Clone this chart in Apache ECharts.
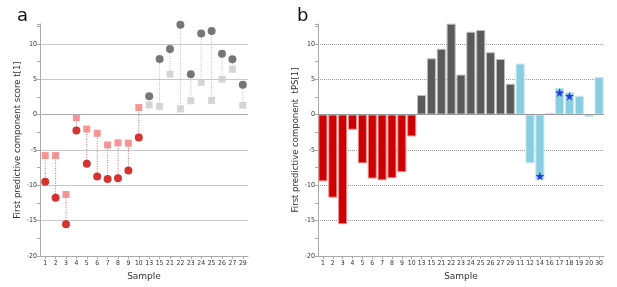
<!DOCTYPE html>
<html>
<head>
<meta charset="utf-8">
<script src="https://cdn.jsdelivr.net/npm/echarts@6/dist/echarts.min.js"></script>
<style>
  html, body { margin: 0; padding: 0; background: #fff; }
  #chart { width: 617px; height: 287px; }
</style>
</head>
<body>
<div id="chart"></div>
<script>
// panel a: samples in plot order
var leftSamples = ['1', '2', '3', '4', '5', '6', '7', '8', '9', '10', '13', '15', '21', '22', '23', '24', '25', '26', '27', '29'];
// round markers (t[1])
var scoreT = [-9.5, -11.75, -15.5, -2.25, -6.95, -8.75, -9.1, -9.0, -7.9, -3.25, 2.6, 7.85, 9.25, 12.7, 5.7, 11.45, 11.8, 8.6, 7.8, 4.2];
// square markers
var scoreSq = [-5.8, -5.8, -11.3, -0.45, -2.05, -2.65, -4.3, -4.0, -4.05, 1.0, 1.35, 1.15, 5.7, 0.8, 1.95, 4.55, 2.0, 5.0, 6.4, 1.3];

// panel b
var rightSamples = ['1', '2', '3', '4', '5', '6', '7', '8', '9', '10', '13', '15', '21', '22', '23', '24', '25', '26', '27', '29', '11', '12', '14', '16', '17', '18', '19', '20', '30'];
var scoreTPS = [-9.45, -11.75, -15.5, -2.15, -6.9, -9.05, -9.3, -9.0, -8.15, -3.1, 2.75, 7.95, 9.3, 12.85, 5.65, 11.7, 11.95, 8.8, 7.85, 4.35, 7.2, -6.9, -9.25, 0.25, 3.75, 3.15, 2.65, -0.35, 5.3];
var rightGroups = ['r', 'r', 'r', 'r', 'r', 'r', 'r', 'r', 'r', 'r', 'g', 'g', 'g', 'g', 'g', 'g', 'g', 'g', 'g', 'g', 'b', 'b', 'b', 'b', 'b', 'b', 'b', 'b', 'b'];
var starSamples = ['14', '17', '18'];
var starValues = [-8.7, 3.1, 2.6];

var chart = echarts.init(document.getElementById('chart'));

var font = 'DejaVu Sans';
var narrow = '"DejaVu Sans Condensed", "Liberation Sans", sans-serif';
var starPath = 'path://M50,0 L61,35 L98,35 L68,57 L79,91 L50,70 L21,91 L32,57 L2,35 L39,35 Z';

function isRed(i) { return i < 10; }

var barColor = { r: '#cc0000', g: '#5a5a5a', b: '#88cde0' };
var barBorder = { r: '#f09090', g: '#bdbdbd', b: '#c5e8f2' };

function yAxisCfg(idx, name, dotted) {
  return {
    type: 'value', gridIndex: idx, min: -20, max: 12.8, interval: 5,
    name: name, nameLocation: 'middle', nameGap: 18,
    nameTextStyle: { fontFamily: font, fontSize: 8.5, color: '#333' },
    axisLine: { show: true, lineStyle: { color: '#aaa' } },
    axisTick: { show: true, length: 3, lineStyle: { color: '#aaa' } },
    minorTick: { show: true, splitNumber: 2, length: 3, lineStyle: { color: '#aaa' } },
    axisLabel: { fontFamily: narrow, fontSize: 7, color: '#333', margin: 3, showMaxLabel: false },
    splitLine: { show: true, showMaxLine: false, showMinLine: false,
      lineStyle: { color: dotted ? '#999' : '#c8c8c8', type: dotted ? 'dotted' : 'solid', width: 1 } }
  };
}

function xAxisCfg(idx, cats) {
  return {
    type: 'category', gridIndex: idx, data: cats, boundaryGap: true,
    name: 'Sample', nameLocation: 'middle', nameGap: 14,
    nameTextStyle: { fontFamily: font, fontSize: 9, color: '#333' },
    axisLine: { show: true, onZero: false, lineStyle: { color: '#aaa' } },
    axisTick: { show: true, alignWithLabel: true, length: 3, lineStyle: { color: '#aaa' } },
    axisLabel: { fontFamily: narrow, fontSize: 6.8, color: '#333', margin: 4, interval: 0 },
    splitLine: { show: false }
  };
}

var option = {
  animation: false,
  backgroundColor: '#fff',
  title: [
    { text: 'a', left: 12, top: 2, textStyle: { fontFamily: font, fontSize: 18, fontWeight: 'normal', color: '#111' } },
    { text: 'b', left: 292, top: 2, textStyle: { fontFamily: font, fontSize: 18, fontWeight: 'normal', color: '#111' } }
  ],
  grid: [
    { left: 40, top: 24, width: 208, height: 232 },
    { left: 318, top: 24, width: 286, height: 232 }
  ],
  xAxis: [xAxisCfg(0, leftSamples), xAxisCfg(1, rightSamples)],
  yAxis: [
    yAxisCfg(0, 'First predictive component score t[1]', false),
    yAxisCfg(1, 'First predictive component  tPS[1]', true)
  ],
  series: [
    {
      // dotted connectors between the two scores of a sample
      type: 'custom', xAxisIndex: 0, yAxisIndex: 0, silent: true, z: 1,
      data: leftSamples.map(function(s, i) { return [i, scoreSq[i], scoreT[i]]; }),
      renderItem: function(params, api) {
        var p1 = api.coord([api.value(0), api.value(1)]);
        var p2 = api.coord([api.value(0), api.value(2)]);
        return {
          type: 'line',
          shape: { x1: p1[0], y1: p1[1], x2: p2[0], y2: p2[1] },
          style: { stroke: isRed(params.dataIndex) ? '#e06666' : '#b8b8b8', lineWidth: 1, lineDash: [1, 1.5] }
        };
      }
    },
    {
      type: 'scatter', xAxisIndex: 0, yAxisIndex: 0, symbol: 'rect', symbolSize: 7, z: 3,
      data: scoreSq,
      itemStyle: { color: function(p) { return isRed(p.dataIndex) ? '#f47c7c' : '#cacaca'; } }
    },
    {
      type: 'scatter', xAxisIndex: 0, yAxisIndex: 0, symbol: 'circle', symbolSize: 8, z: 4,
      data: scoreT,
      itemStyle: { color: function(p) { return isRed(p.dataIndex) ? '#cc0000' : '#555555'; } },
      markLine: {
        silent: true, symbol: 'none', label: { show: false },
        lineStyle: { color: '#aaa', type: 'solid', width: 1 },
        data: [{ yAxis: 0 }]
      }
    },
    {
      type: 'bar', xAxisIndex: 1, yAxisIndex: 1, barCategoryGap: '8%', z: 2,
      data: scoreTPS.map(function(v, i) {
        var g = rightGroups[i];
        return { value: v, itemStyle: { color: barColor[g], borderColor: barBorder[g], borderWidth: 1 } };
      }),
      markLine: {
        silent: true, symbol: 'none', label: { show: false },
        lineStyle: { color: '#999', type: 'solid', width: 1 },
        data: [{ yAxis: 0 }]
      }
    },
    {
      type: 'scatter', xAxisIndex: 1, yAxisIndex: 1, symbol: starPath, symbolSize: 9, z: 5,
      data: starSamples.map(function(s, i) { return [s, starValues[i]]; }),
      itemStyle: { color: '#0a14e6' }
    }
  ]
};

chart.setOption(option);
</script>
</body>
</html>
